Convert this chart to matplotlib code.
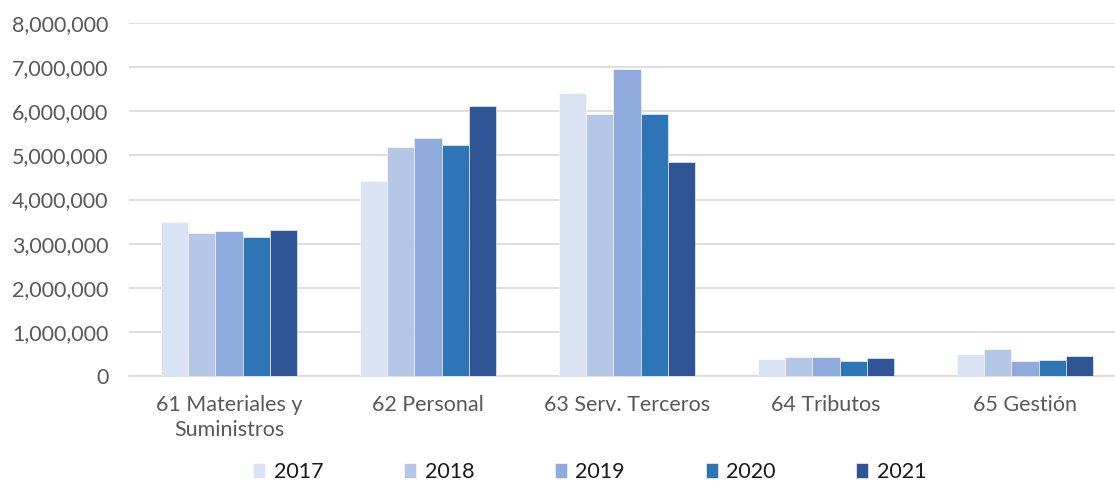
import numpy as np
import matplotlib.pyplot as plt
from matplotlib.ticker import FuncFormatter

categories = ["61 Materiales y\nSuministros", "62 Personal", "63 Serv. Terceros", "64 Tributos", "65 Gestión"]
years = ["2017", "2018", "2019", "2020", "2021"]
values = {
    "2017": [3490000, 4410000, 6420000, 390000, 490000],
    "2018": [3250000, 5190000, 5930000, 430000, 620000],
    "2019": [3280000, 5390000, 6960000, 440000, 350000],
    "2020": [3160000, 5240000, 5940000, 340000, 370000],
    "2021": [3310000, 6120000, 4860000, 400000, 460000],
}
colors = ["#DAE3F3", "#B4C7E7", "#8FAADC", "#2E75B6", "#2F5597"]

plt.rcParams['font.family'] = ['Lato', 'DejaVu Sans']

fig = plt.figure(figsize=(11.15, 4.84), dpi=100)
# plot area runs slightly past the right edge, as in the cropped original
ax = fig.add_axes([0.1161, 0.2231, 0.8924, 0.7294])

x = np.arange(len(categories))
group_w = 0.685
bw = group_w / len(years)
for i, yr in enumerate(years):
    ax.bar(x - group_w / 2 + bw * (i + 0.5), values[yr], width=bw, color=colors[i],
           edgecolor="white", linewidth=0.4, label=yr, zorder=3)

ax.set_xlim(-0.5, len(categories) - 0.5)
ax.set_ylim(0, 8000000)
ax.set_yticks(np.arange(0, 8000001, 1000000))
ax.yaxis.set_major_formatter(FuncFormatter(lambda v, p: f"{int(v):,}"))
ax.set_xticks(x)
ax.set_xticklabels(categories, linespacing=1.3)
ax.grid(axis="y", color="#D9D9D9", linewidth=1.2, zorder=0)
for s in ["top", "right", "left"]:
    ax.spines[s].set_visible(False)
ax.spines["bottom"].set_color("#D9D9D9")
ax.spines["bottom"].set_linewidth(1.2)
ax.tick_params(axis="both", length=0, labelsize=15.5, colors="#595959")
ax.tick_params(axis="x", pad=14)
ax.tick_params(axis="y", pad=15)

leg = fig.legend(loc="center", bbox_to_anchor=(0.529, 0.025), ncol=5, frameon=False,
                 fontsize=15.5, handlelength=0.55, handleheight=0.75, handletextpad=0.4,
                 columnspacing=3.75)
for t in leg.get_texts():
    t.set_color("#1a1a1a")

fig.savefig("out.png", dpi=100)
